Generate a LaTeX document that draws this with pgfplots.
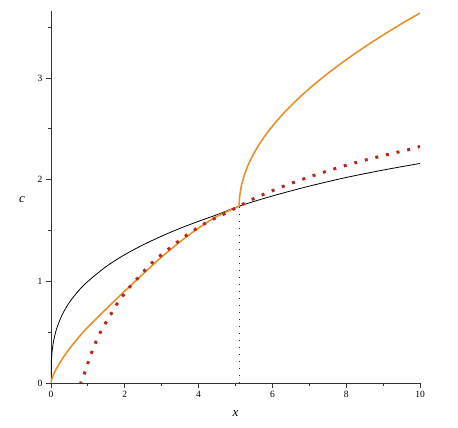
\documentclass[border=0pt]{standalone}
\usepackage{fontspec}
\setmainfont{Liberation Serif}
\usepackage{pgfplots}
\pgfplotsset{compat=1.18}
\definecolor{orng}{RGB}{232,145,40}
\definecolor{dred}{RGB}{180,40,32}
\begin{document}
\begin{tikzpicture}
\begin{axis}[name=ax, scale only axis, width=369pt, height=372pt,
  xmin=0, xmax=10, ymin=0, ymax=3.66,
  axis lines=left,
  axis line style={black!80, line width=0.8pt, -},
  xtick={0,2,4,6,8,10}, ytick={0,1,2,3},
  minor xtick={1,3,5,7,9}, minor ytick={0.5,1.5,2.5,3.5},
  tick align=outside, major tick length=5pt, minor tick length=3pt,
  tick style={black!80, line width=0.8pt},
  ticklabel style={font=\fontsize{9.5}{9.5}\selectfont},
  /pgf/number format/assume math mode=true,
  clip mode=individual,
]
% black curve
\addplot[black, line width=0.8pt, smooth] coordinates {
(0,0)(0.003,0.144)(0.01,0.215)(0.03,0.31)(0.07,0.412)(0.15,0.531)(0.3,0.669)(0.5,0.794)(0.75,0.909)(1,1.0)(1.5,1.147)(2,1.263)(2.5,1.36)(3,1.445)(3.5,1.522)(4,1.591)(4.5,1.656)(5.1,1.74)(6,1.84)(7,1.937)(8,2.022)(9,2.095)(10,2.16)};
% vertical dotted line
\addplot[black!85, line width=1.1pt, dash pattern=on 1.1pt off 5.9pt] coordinates {(5.1,0)(5.1,1.74)};
% orange lower branch
\addplot[orng, line width=1.6pt, smooth] coordinates {
(0,0)(0.02,0.035)(0.05,0.066)(0.1,0.108)(0.2,0.176)(0.35,0.262)(0.5,0.337)(0.75,0.449)(1,0.55)(1.5,0.73)(2,0.905)(2.5,1.075)(3,1.24)(3.5,1.39)(4,1.525)(4.5,1.64)(5.1,1.74)};
% orange upper branch
\addplot[orng, line width=1.6pt, smooth] coordinates {
(5.1,1.74)(5.1038,1.79)(5.1151,1.84)(5.1602,1.94)(5.2346,2.04)(5.3379,2.14)(5.4695,2.24)(5.629,2.34)(5.8158,2.44)(6.0294,2.54)(6.2693,2.64)(6.535,2.74)(6.8259,2.84)(7.1416,2.94)(7.4816,3.04)(7.8452,3.14)(8.232,3.24)(8.6415,3.34)(9.0732,3.44)(9.5264,3.54)(10,3.64)};
% red dotted curve
\addplot[dred, line width=3pt, dash pattern=on 3pt off 7.9pt, smooth] coordinates {
(0.79,-0.015)(0.894,0.079)(0.985,0.18)(1.084,0.285)(1.192,0.383)(1.319,0.485)(1.463,0.58)(1.617,0.672)(1.77,0.767)(1.942,0.855)(2.132,0.944)(2.33,1.023)(2.529,1.104)(2.74,1.184)(3.198,1.322)(3.676,1.454)(4.182,1.572)(4.707,1.666)(5.1,1.74)(5.547,1.823)(6.387,1.948)(7.236,2.056)(8.085,2.151)(8.95,2.233)(9.83,2.308)(10,2.33)};
\node[font=\fontsize{13}{13}\selectfont\itshape] at (axis cs:5,0) [yshift=-31pt] {x};
\node[font=\fontsize{13}{13}\selectfont\itshape] at (axis cs:0,1.81) [xshift=-29pt] {c};
\end{axis}
\pgfresetboundingbox
\path[use as bounding box] ([xshift=-51pt,yshift=-45pt]ax.south west) rectangle ([xshift=38pt,yshift=11pt]ax.north east);
\end{tikzpicture}
\end{document}
